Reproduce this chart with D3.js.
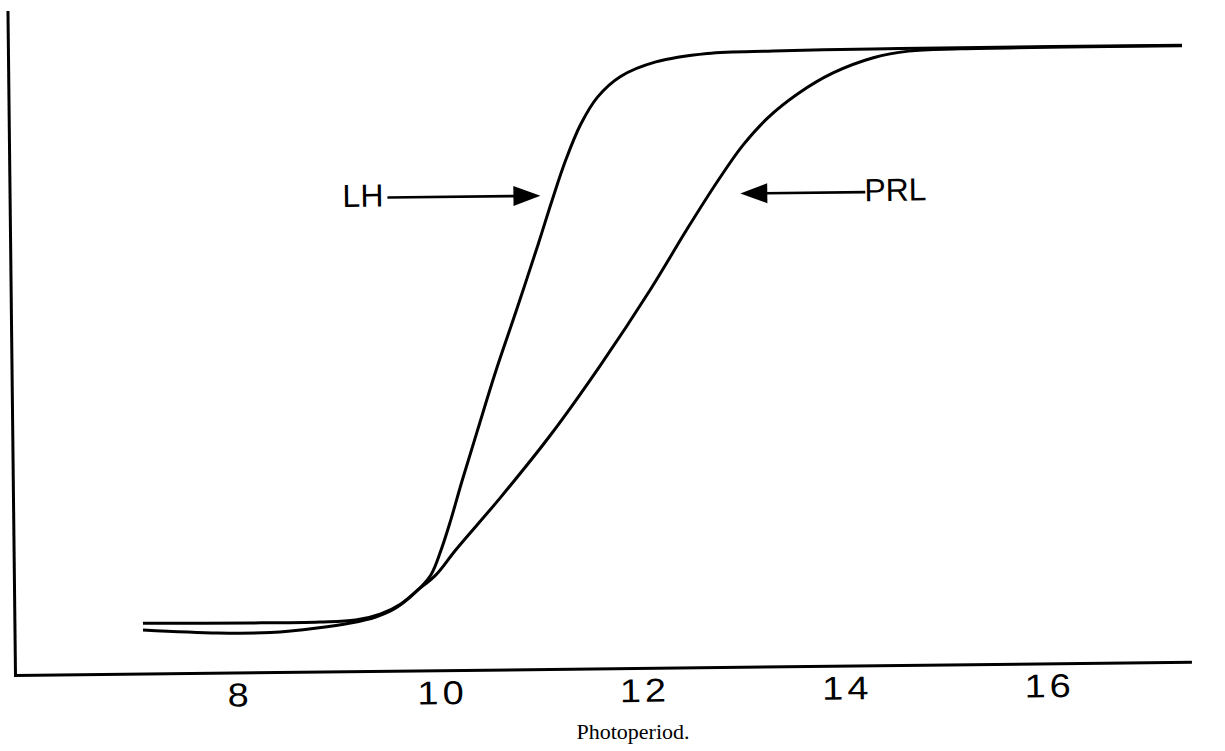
<!DOCTYPE html>
<html>
<head>
<meta charset="utf-8">
<script src="https://cdn.jsdelivr.net/npm/d3@7"></script>
<style>
  html, body { margin: 0; padding: 0; background: #fff; }
  svg { display: block; }
</style>
</head>
<body>
<svg id="chart" width="1225" height="751"></svg>
<script>
// ---------------- data ----------------
const xTickValues = [8, 10, 12, 14, 16];
const xTickLabels = ["8", "10", "12", "14", "16"];
const xAxisTitle = "Photoperiod.";

// LH response curve (photoperiod, relative response 0-100)
const lhX = [7.07, 7.81, 8.33, 8.79, 9.12, 9.37, 9.57, 9.77, 9.92, 10.02, 10.12, 10.24, 10.40, 10.58, 10.80, 11.02, 11.16, 11.30, 11.45, 11.62, 11.85, 12.20, 12.71, 13.36, 14.35, 15.01, 17.40];
const lhY = [-1.13, -1.82, -1.84, -1.13, -0.32, 0.69, 2.24, 5.03, 8.0, 12.2, 17.5, 24.6, 33.6, 43.6, 54.8, 66.3, 73.9, 81.0, 87.2, 92.0, 95.6, 98.1, 99.5, 99.8, 99.96, 100, 100];

// PRL response curve
const prlX = [7.07, 8.13, 8.82, 9.17, 9.42, 9.62, 9.79, 9.97, 10.17, 10.62, 11.12, 11.62, 12.12, 12.50, 12.80, 13.05, 13.30, 13.60, 13.95, 14.35, 14.70, 15.21, 17.40];
const prlY = [0.05, -0.11, -0.07, 0.21, 1.22, 2.95, 5.38, 8.0, 12.4, 21.6, 32.5, 44.7, 57.9, 68.8, 77.0, 83.2, 88.0, 92.2, 95.8, 98.4, 99.5, 99.8, 99.9];

// annotations: label, arrow tip (data coords), direction (+1 = label on left, arrow points right)
const annLabels = ["LH", "PRL"];
const annTipX = [11.045, 13.02];
const annTipY = [74.7, 74.7];
const annDir = [1, -1];

// ---------------- drawing ----------------
const svg = d3.select("#chart");
svg.append("rect").attr("width", 1225).attr("height", 751).attr("fill", "#fff");

// the scanned figure is slightly rotated
const g = svg.append("g").attr("transform", "rotate(-0.65, 16, 675)");

const x = d3.scaleLinear().domain([5.80, 17.41]).range([15, 1190]);
const y = d3.scaleLinear().domain([-8.83, 108.2]).range([675, 12]);

// x axis
const xAxis = g.append("g")
  .attr("transform", "translate(0,675)")
  .call(d3.axisBottom(x).tickValues(xTickValues).tickFormat((d, i) => xTickLabels[i]).tickSize(0).tickSizeOuter(0));
xAxis.select(".domain").attr("stroke", "#000").attr("stroke-width", 3).attr("stroke-linecap", "square");
xAxis.selectAll(".tick text")
  .attr("y", 0).attr("dy", 0).attr("dx", 1.5)
  .attr("transform", "translate(0,34) scale(1.15,1)")
  .attr("fill", "#000")
  .style("font-family", "'Liberation Sans', Arial, Helvetica, sans-serif")
  .style("font-size", "33px")
  .style("letter-spacing", "3.5px");

// y axis (no ticks)
const yAxis = g.append("g")
  .attr("transform", "translate(15,0)")
  .call(d3.axisLeft(y).tickValues([]).tickSizeOuter(0));
yAxis.select(".domain").attr("stroke", "#000").attr("stroke-width", 3).attr("stroke-linecap", "square");

// curves
const line = d3.line().x(d => x(d[0])).y(d => y(d[1])).curve(d3.curveCatmullRom.alpha(0.5));
const lhData = lhX.map((v, i) => [v, lhY[i]]);
const prlData = prlX.map((v, i) => [v, prlY[i]]);

g.append("path").datum(prlData).attr("d", line)
  .attr("fill", "none").attr("stroke", "#000").attr("stroke-width", 3);
g.append("path").datum(lhData).attr("d", line)
  .attr("fill", "none").attr("stroke", "#000").attr("stroke-width", 3);

// annotations
const font = "'Liberation Sans', Arial, Helvetica, sans-serif";
annLabels.forEach((lab, i) => {
  const tx = x(annTipX[i]);
  const ty = y(annTipY[i]);
  const d = annDir[i];
  const headLen = 27, headHalf = 10;
  const lineLen = d > 0 ? 153 : 125;
  // arrow head
  g.append("path")
    .attr("d", `M${tx},${ty} L${tx - d * headLen},${ty - headHalf} L${tx - d * headLen},${ty + headHalf} Z`)
    .attr("fill", "#000");
  // shaft
  g.append("line")
    .attr("x1", tx - d * (headLen - 2)).attr("y1", ty)
    .attr("x2", tx - d * lineLen).attr("y2", ty)
    .attr("stroke", "#000").attr("stroke-width", 2.6);
  // label
  g.append("text")
    .attr("x", d > 0 ? tx - lineLen - 4 : tx + lineLen - 1)
    .attr("y", ty + 9)
    .attr("text-anchor", d > 0 ? "end" : "start")
    .attr("fill", "#000")
    .style("font-family", font)
    .style("font-size", "32px")
    .text(lab);
});

// axis title
svg.append("text")
  .attr("x", 633).attr("y", 739)
  .attr("text-anchor", "middle")
  .attr("fill", "#000")
  .style("font-family", "'Liberation Serif', 'Times New Roman', serif")
  .style("font-size", "22px")
  .text(xAxisTitle);
</script>
</body>
</html>
